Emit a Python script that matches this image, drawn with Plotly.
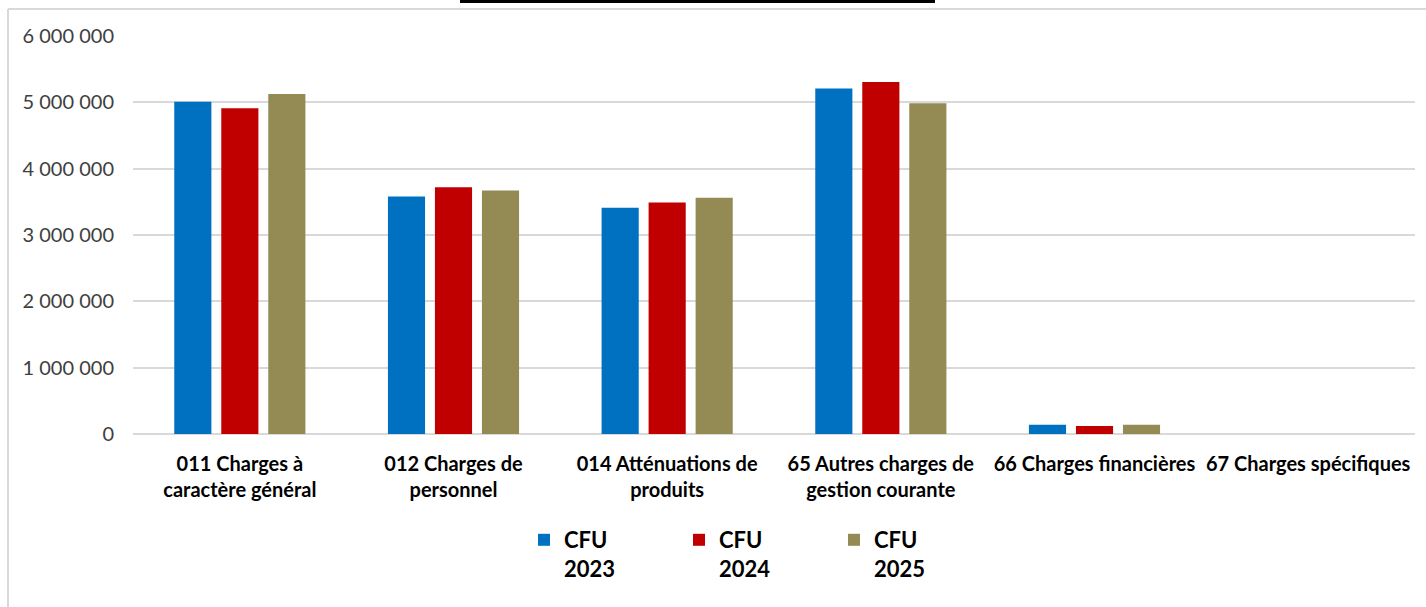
import plotly.graph_objects as go

categories = [
    "011 Charges à<br>caractère général",
    "012 Charges de<br>personnel",
    "014 Atténuations de<br>produits",
    "65 Autres charges de<br>gestion courante",
    "66 Charges financières",
    "67 Charges spécifiques",
]
series_names = ["CFU<br>2023", "CFU<br>2024", "CFU<br>2025"]
cfu_2023 = [5010000, 3580000, 3410000, 5210000, 140000, 0]
cfu_2024 = [4910000, 3720000, 3490000, 5305000, 120000, 0]
cfu_2025 = [5125000, 3670000, 3560000, 4985000, 140000, 0]
colors = ["#0070C0", "#C00000", "#948A54"]
tick_vals = [0, 1000000, 2000000, 3000000, 4000000, 5000000, 6000000]
tick_text = ["0", "1 000 000", "2 000 000", "3 000 000", "4 000 000", "5 000 000", "6 000 000"]

W, H = 1426, 607
L, R, T, B = 133, 1415, 36, 434

fig = go.Figure()
for name, vals, c in zip(series_names, [cfu_2023, cfu_2024, cfu_2025], colors):
    fig.add_trace(go.Bar(x=categories, y=vals, name=name, marker=dict(color=c, line=dict(width=0))))

def px(x):
    return (x - L) / (R - L)

def py(y):
    return (B - y) / (B - T)

shapes = [
    dict(type="line", xref="paper", yref="paper", x0=px(8), x1=px(1426), y0=py(9), y1=py(9),
         line=dict(color="#d9d9d9", width=2)),
    dict(type="line", xref="paper", yref="paper", x0=px(8), x1=px(8), y0=py(9), y1=py(607),
         line=dict(color="#d9d9d9", width=2)),
    dict(type="line", xref="paper", yref="paper", x0=px(460), x1=px(935), y0=py(1.5), y1=py(1.5),
         line=dict(color="black", width=3)),
]

fig.update_layout(
    width=W, height=H,
    margin=dict(l=L, r=W - R, t=T, b=H - B, pad=0),
    paper_bgcolor="white", plot_bgcolor="white",
    barmode="group", bargap=0.34, bargroupgap=0.21,
    font=dict(family="Lato, Open Sans, sans-serif", color="#000000"),
    showlegend=True,
    legend=dict(
        orientation="h", x=px(524), xanchor="left", y=py(519), yanchor="top",
        font=dict(size=22, family="Lato, sans-serif", color="#000000", weight="bold"),
        valign="top", entrywidth=110, traceorder="normal",
    ),
    shapes=shapes,
)

fig.update_xaxes(
    showgrid=False, showline=False, ticks="",
    tickfont=dict(size=20, family="Lato, sans-serif", color="#000000", weight="bold"),
    tickangle=0, ticklabelstandoff=16,
)
fig.update_yaxes(
    range=[0, 6000000], tickvals=tick_vals, ticktext=tick_text,
    showgrid=True, gridcolor="#d9d9d9", gridwidth=2,
    zeroline=True, zerolinecolor="#d9d9d9", zerolinewidth=2,
    showline=False, ticks="", ticklabelstandoff=18,
    tickfont=dict(size=20, family="Lato, sans-serif", color="#404040"),
)

fig.write_html(
    "out.html",
    config={"displayModeBar": False},
    post_script="document.body.style.margin='0';document.body.style.overflow='hidden';",
)
